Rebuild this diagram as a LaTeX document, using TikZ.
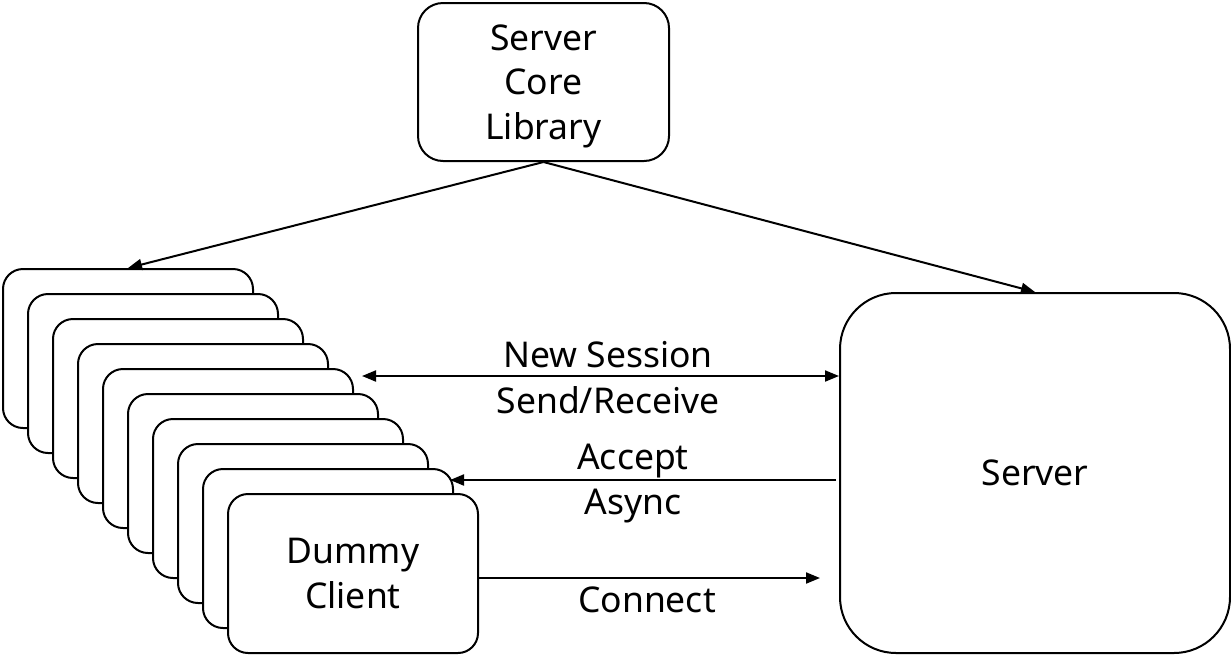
\documentclass[tikz,border=0pt]{standalone}
\usepackage{fontspec}
\setmainfont{Noto Sans}
\usetikzlibrary{arrows.meta}
\begin{document}
\begin{tikzpicture}[x=1pt,y=-1pt,
  line width=2pt,
  txt/.style={font=\fontsize{35.5}{44.5}\selectfont, align=center, inner sep=0pt},
  box/.style={draw, fill=white, rounded corners=#1, inner sep=0pt, anchor=north west, txt},
  client/.style={box=20pt, minimum width=250pt, minimum height=159pt},
  arr/.style={-{Triangle[length=14pt,width=11pt]}},
  darr/.style={{Triangle[length=14pt,width=11pt]}-{Triangle[length=14pt,width=11pt]}},
  lbl/.style={txt}
]
\useasboundingbox (0,0) rectangle (1231,654);
\node[box=25pt, minimum width=251pt, minimum height=158pt, text depth=0pt] (core) at (417,2) {Server\\Core\\Library};
\node[box=56pt, minimum width=390pt, minimum height=360pt] (server) at (839,292) {Server};
\foreach \i in {1,...,9} {
  \node[client] (c\i) at ({2+(\i-1)*25},{268+(\i-1)*25}) {};
}
\node[client] (c10) at (227,493) {Dummy\\Client};
\draw[arr] (core.south) -- (c1.north);
\draw[arr] (core.south) -- (server.north);
\coordinate (nsL) at (362,376);
\coordinate (nsR) at (server.west |- nsL);
\draw[darr] (nsL) -- (nsR);
\coordinate (acR) at (836,480);
\coordinate (acL) at (450,480);
\draw[arr] (acR) -- (acL);
\coordinate (cnL) at (c10.east |- 0,578);
\coordinate (cnR) at (820,578);
\draw[arr] (cnL) -- (cnR);
\node[lbl] (ns) at (608,355) {New Session};
\node[lbl] (sr) at (608,400) {Send/Receive};
\node[lbl] (ac) at (633,461) {Accept};
\node[lbl] (as) at (633,506) {Async};
\node[lbl] (cn) at (647,600) {Connect};
\end{tikzpicture}
\end{document}
